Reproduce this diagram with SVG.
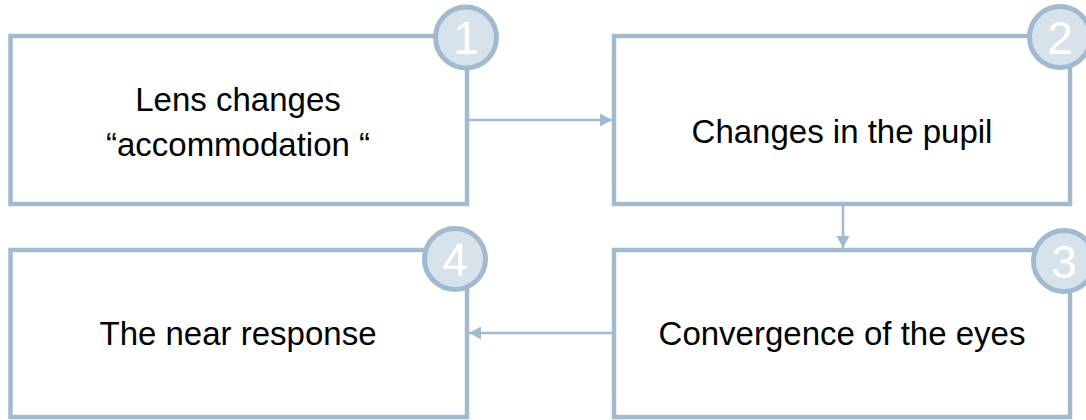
<svg xmlns="http://www.w3.org/2000/svg" width="1086" height="420" viewBox="0 0 1086 420">
<defs>
<style>
.box{fill:#ffffff;stroke:#a2bad0;stroke-width:4.5}
.badge{fill:#d7e2eb;stroke:#a2bad0;stroke-width:5}
.num{font-family:"Liberation Sans",Arial,sans-serif;font-size:46px;fill:#ffffff;text-anchor:middle}
.lbl{font-family:"Liberation Sans",Arial,sans-serif;font-size:33px;fill:#000000;text-anchor:middle}
.conn{stroke:#a2bad0;stroke-width:2.5;fill:none}
</style>
<marker id="arr" markerWidth="14" markerHeight="14" refX="12" refY="6.5" orient="auto" markerUnits="userSpaceOnUse">
<path d="M0,0 L12,6.5 L0,13 Z" fill="#a2bad0"/>
</marker>
</defs>
<rect width="1086" height="420" fill="#ffffff"/>
<g id="connectors">
<line class="conn" x1="469" y1="120" x2="612" y2="120" marker-end="url(#arr)"/>
<line class="conn" x1="843" y1="206" x2="843" y2="248" marker-end="url(#arr)"/>
<line class="conn" x1="612" y1="333" x2="469" y2="333" marker-end="url(#arr)"/>
</g>
<g id="node1">
<rect class="box" x="10.5" y="36" width="456.5" height="168"/>
<circle class="badge" cx="466" cy="37.5" r="30.5"/>
<text class="num" x="466" y="54">1</text>
<text class="lbl" x="238" y="111">Lens changes</text>
<text class="lbl" x="238" y="156">“accommodation “</text>
</g>
<g id="node2">
<rect class="box" x="614" y="36" width="456" height="168"/>
<circle class="badge" cx="1060" cy="37" r="30.5"/>
<text class="num" x="1060" y="53.5">2</text>
<text class="lbl" x="842" y="143">Changes in the pupil</text>
</g>
<g id="node3">
<rect class="box" x="614" y="250" width="456" height="167"/>
<circle class="badge" cx="1064" cy="261" r="30.5"/>
<text class="num" x="1064" y="277.5">3</text>
<text class="lbl" x="842" y="345">Convergence of the eyes</text>
</g>
<g id="node4">
<rect class="box" x="10.5" y="250" width="456.5" height="167"/>
<circle class="badge" cx="455" cy="259" r="30.5"/>
<text class="num" x="455" y="275.5">4</text>
<text class="lbl" x="238" y="345">The near response</text>
</g>
</svg>
